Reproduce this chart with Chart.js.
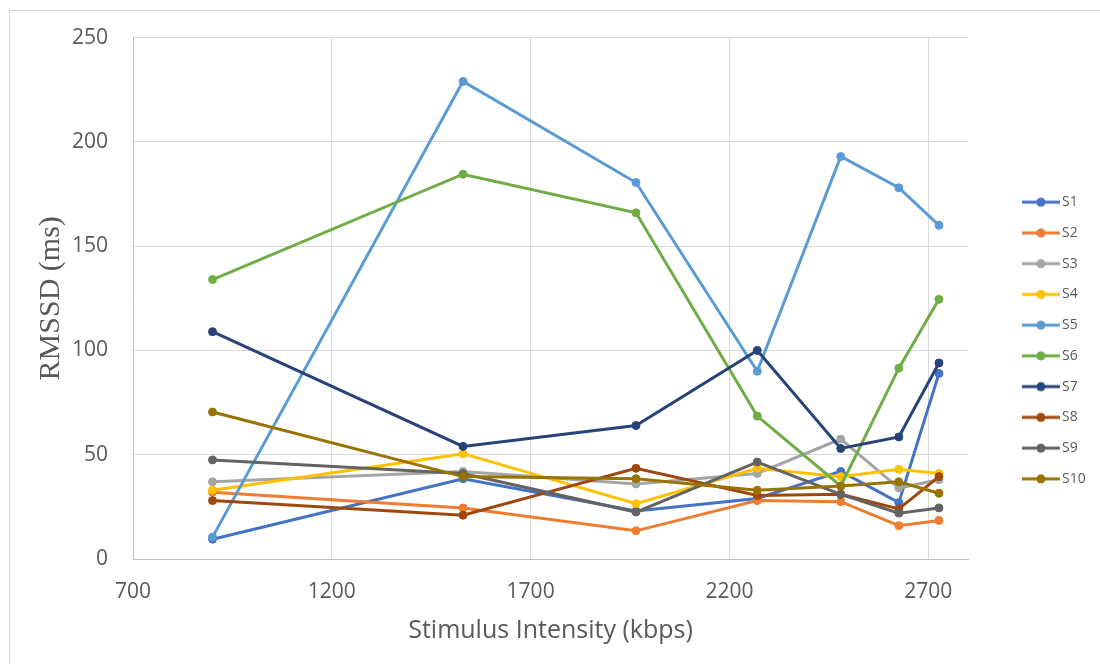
<!DOCTYPE html>
<html><head><meta charset="utf-8">
<script src="https://cdn.jsdelivr.net/npm/chart.js@4.4.1/dist/chart.umd.min.js"></script>
<style>
html,body{margin:0;padding:0;background:#fff;width:1100px;height:664px;overflow:hidden;}
#frame{position:absolute;left:9px;top:10px;width:1200px;height:800px;border:1px solid #d9d9d9;}
#wrap{position:absolute;left:0;top:0;width:1100px;height:664px;}
</style></head>
<body>
<div id="frame"></div>
<div id="wrap"><canvas id="c" width="1100" height="664"></canvas></div>
<script>
const stimulus = [900, 1530, 1965, 2270, 2480, 2626, 2727];
const seriesNames = ['S1','S2','S3','S4','S5','S6','S7','S8','S9','S10'];
const s1  = [9.5, 38.5, 23, 29, 42, 27, 89];
const s2  = [32, 24.5, 13.5, 28, 27.5, 16, 18.5];
const s3  = [37, 42, 36, 41, 57.5, 34, 38];
const s4  = [33, 50.5, 26.5, 43.5, 39.5, 43, 41];
const s5  = [10.5, 229, 180.5, 90, 193, 178, 160];
const s6  = [134, 184.5, 166, 68.5, 35, 91.5, 124.5];
const s7  = [109, 54, 64, 100, 53, 58.5, 94];
const s8  = [28, 21, 43.5, 30.5, 31, 24, 39.5];
const s9  = [47.5, 41, 22.5, 46.5, 31, 22, 24.5];
const s10 = [70.5, 39.5, 38.5, 33, 35, 37, 31.5];
const xTicks = [700, 1200, 1700, 2200, 2700];
const yTicks = [0, 50, 100, 150, 200, 250];
const colors = ['#4472C4','#ED7D31','#A5A5A5','#FFC000','#5B9BD5','#70AD47','#264478','#9E480E','#636363','#997300'];
const allSeries = [s1,s2,s3,s4,s5,s6,s7,s8,s9,s10];

function legendIcon(color){
  const c = document.createElement('canvas');
  c.width = 100; c.height = 12;
  const g = c.getContext('2d');
  g.strokeStyle = color; g.lineWidth = 3;
  g.beginPath(); g.moveTo(52, 6); g.lineTo(90, 6); g.stroke();
  g.fillStyle = color;
  g.beginPath(); g.arc(71, 6, 4.5, 0, Math.PI*2); g.fill();
  return c;
}

const datasets = allSeries.map((vals, i) => ({
  label: seriesNames[i],
  data: stimulus.map((x, j) => ({x: x, y: vals[j]})),
  borderColor: colors[i],
  backgroundColor: colors[i],
  borderWidth: 3,
  pointRadius: 4,
  pointBorderWidth: 1,
  pointBorderColor: colors[i],
  pointBackgroundColor: colors[i],
  tension: 0,
  order: 10 - i
}));

const txt = '#595959';
new Chart(document.getElementById('c'), {
  type: 'line',
  data: { datasets },
  options: {
    responsive: false,
    animation: false,
    devicePixelRatio: 1,
    layout: { padding: { left: 0, top: 35, right: 0, bottom: 18 } },
    plugins: {
      tooltip: { enabled: false },
      legend: {
        position: 'right',
        align: 'center',
        maxWidth: 132,
        labels: {
          usePointStyle: true,
          pointStyleWidth: 70.3,
          padding: 16.74,
          color: txt,
          font: { family: 'Open Sans', size: 14 },
          generateLabels(chart) {
            return chart.data.datasets.map((ds, i) => ({
              text: ds.label + '                    ',
              fillStyle: ds.borderColor,
              strokeStyle: ds.borderColor,
              lineWidth: 0,
              fontColor: txt,
              hidden: !chart.isDatasetVisible(i),
              datasetIndex: i,
              pointStyle: legendIcon(ds.borderColor)
            }));
          }
        }
      }
    },
    scales: {
      x: {
        type: 'linear',
        min: 700,
        max: 2800,
        afterBuildTicks(s) { s.ticks = xTicks.map(v => ({value: v})); },
        afterFit(s) { s.height = 87; },
        grid: { color: '#d9d9d9', lineWidth: 1, drawTicks: false },
        border: { color: '#bfbfbf', width: 1 },
        ticks: { color: txt, font: { family: 'Open Sans', size: 21 }, padding: 20, maxRotation: 0,
                 callback: v => String(v) },
        title: { display: true, text: 'Stimulus Intensity (kbps)', color: txt,
                 font: { family: 'Open Sans', size: 25 }, padding: { top: 0, bottom: 0 } }
      },
      y: {
        min: 0,
        max: 250,
        afterBuildTicks(s) { s.ticks = yTicks.map(v => ({value: v})); },
        afterFit(s) { s.width = 133; },
        grid: { color: '#d9d9d9', lineWidth: 1, drawTicks: false },
        border: { color: '#bfbfbf', width: 1 },
        ticks: { color: txt, font: { family: 'Open Sans', size: 21 }, padding: 25,
                 callback: v => String(v) },
        title: { display: true, text: 'RMSSD (ms)', color: txt,
                 font: { family: 'Liberation Serif', size: 30 }, padding: { top: 33, bottom: 0 } }
      }
    }
  }
});
</script>
</body></html>
